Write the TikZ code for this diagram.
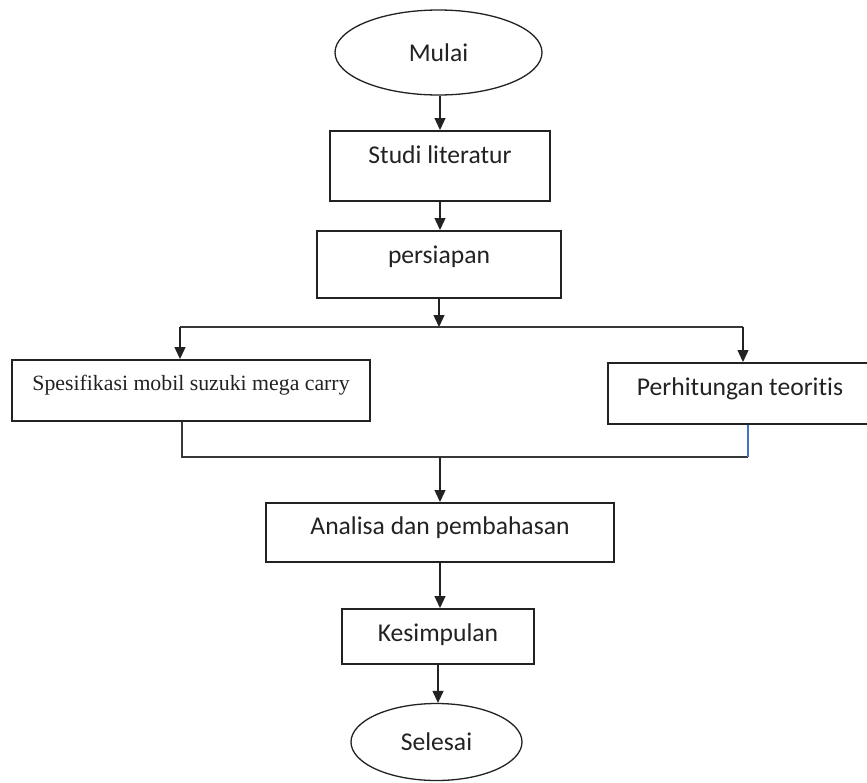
\documentclass[tikz,border=0pt]{standalone}
\usepackage{fontspec}
\setmainfont{Carlito}[Ligatures=NoCommon]
\newfontfamily\serifspec{Liberation Serif}[Ligatures=NoCommon]
\usetikzlibrary{shapes.geometric,arrows.meta}
\definecolor{inkc}{HTML}{222222}
\definecolor{wordblue}{HTML}{4472C4}
\begin{document}
\begin{tikzpicture}[x=1pt,y=-1pt,
  every node/.style={font=\fontsize{25.6}{30}\selectfont, text=inkc},
  flowbox/.style args={#1/#2/#3}{draw=inkc, line width=1.7pt, rectangle, inner sep=0pt,
     minimum width=#1pt, text height=#2pt, text depth=#3pt, anchor=north, align=center},
  oval/.style={draw=inkc, line width=1.3pt, ellipse, inner sep=0pt},
  arr/.style={draw=inkc, line width=1.3pt, -{Triangle[length=12pt,width=11pt]}},
  plain/.style={draw=inkc!90, line width=1.5pt},
  blueline/.style={draw=wordblue, line width=1.3pt}]
\useasboundingbox (0,0) rectangle (867,782);
\fill[white] (0,0) rectangle (867,782);

\node[oval, minimum width=207pt, minimum height=85pt] (mulai) at (438.5,52.5) {Mulai};
\node[flowbox={220/33/37}] (studi) at (440,130) {Studi literatur};
\node[flowbox={244/33/34}] (persiapan) at (439,230) {persiapan};
\node[flowbox={358/31/30}, font=\serifspec\fontsize{21.8}{26}\selectfont] (spes) at (191,359) {Spesifikasi mobil suzuki mega carry};
\node[flowbox={264/33/28}] (perh) at (740,362) {Perhitungan teoritis};
\node[flowbox={348/32/27}] (analisa) at (440,502) {Analisa dan pembahasan};
\node[flowbox={192/33/22}] (kesimpulan) at (438,608) {Kesimpulan};
\node[oval, minimum width=171pt, minimum height=77pt] (selesai) at (436.5,742) {Selesai};

\coordinate (split) at (441,327);
\coordinate (sl) at (180,327);
\coordinate (sr) at (743,327);
\coordinate (ml) at (182,457);
\coordinate (mr) at (748,457);
\coordinate (mj) at (440,457);

\draw[arr] (studi.north |- mulai.south) -- (studi.north);
\draw[arr] (studi.south) -- (studi.south |- persiapan.north);
\draw[arr] (persiapan.south) -- (persiapan.south |- split);
\draw[plain] (sl) -- (sr);
\draw[arr] (sl) -- (sl |- spes.north);
\draw[arr] (sr) -- (sr |- perh.north);
\draw[plain] (ml |- spes.south) -- (ml) -- (mr);
\draw[blueline] (mr |- perh.south) -- (mr);
\draw[arr] (mj) -- (mj |- analisa.north);
\draw[arr] (analisa.south) -- (analisa.south |- kesimpulan.north);
\draw[arr] (kesimpulan.south) -- (kesimpulan.south |- selesai.north);
\end{tikzpicture}
\end{document}
